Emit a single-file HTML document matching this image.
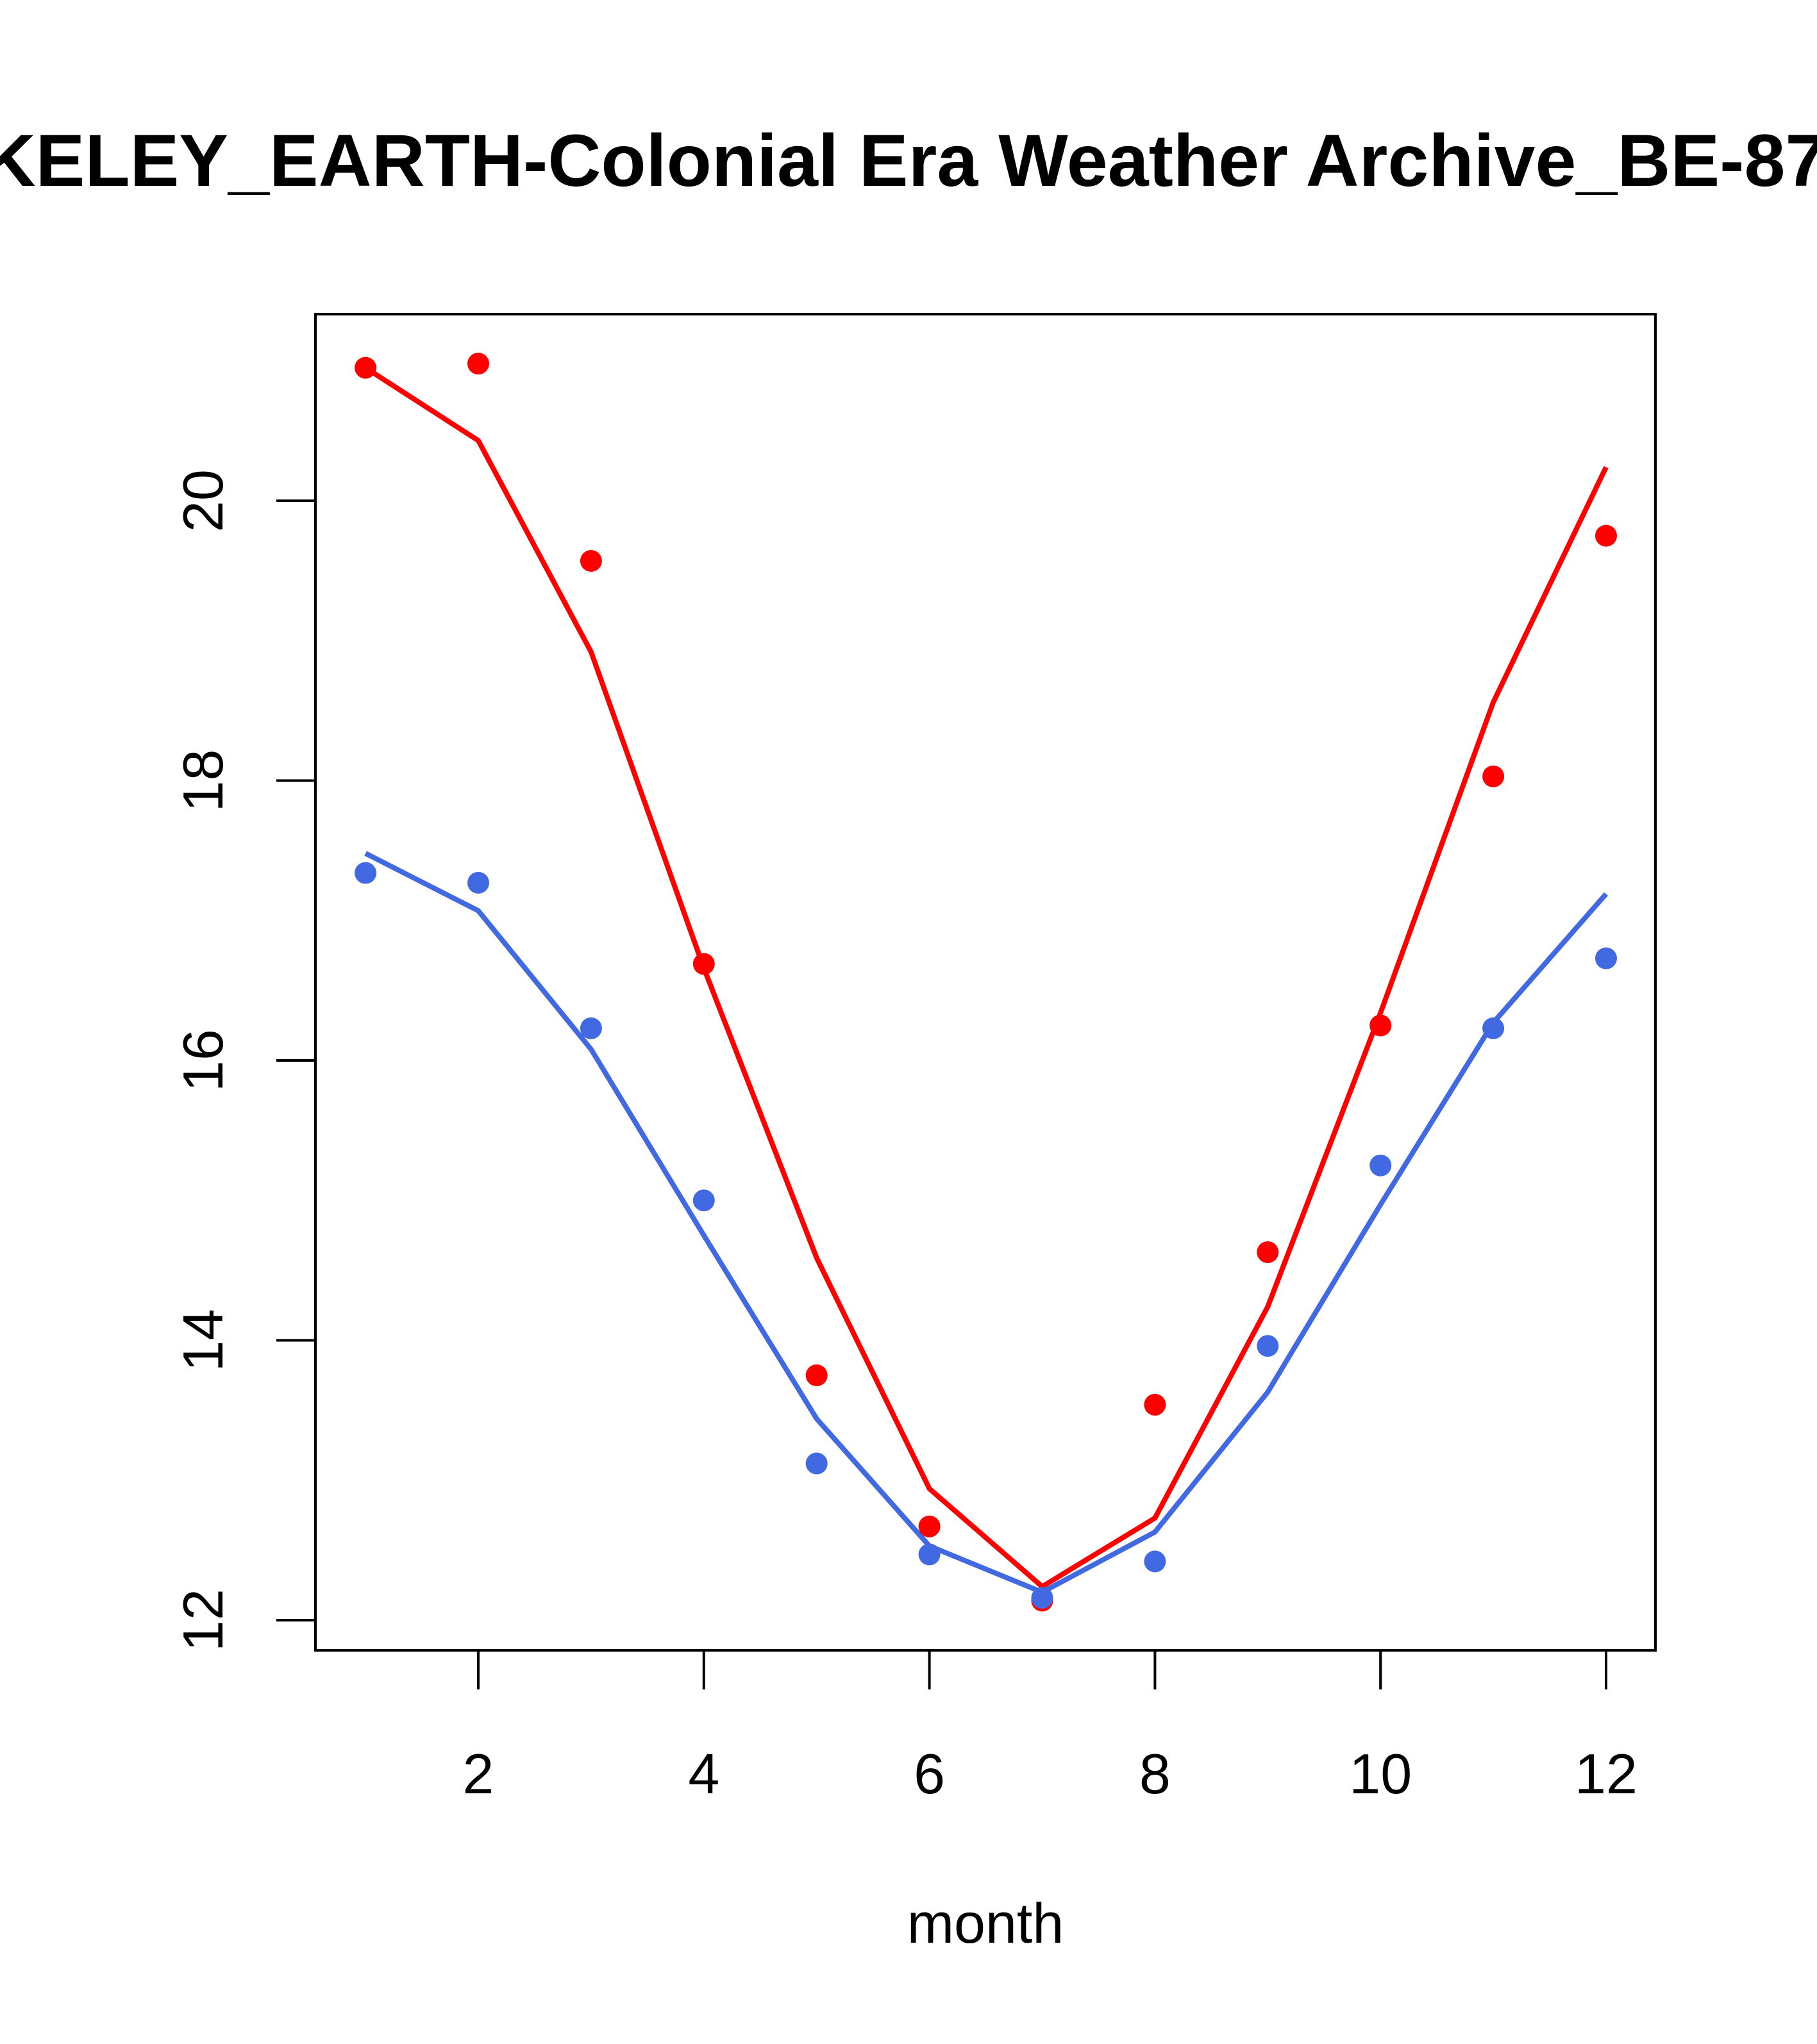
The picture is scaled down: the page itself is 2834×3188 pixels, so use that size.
<!DOCTYPE html>
<html><head><meta charset="utf-8"><style>
html,body{margin:0;padding:0;background:#fff;}
svg{display:block;font-family:"Liberation Sans",Arial,sans-serif;}
</style></head><body>
<svg id="chart" width="2834" height="3188" viewBox="0 0 2834 3188" xmlns="http://www.w3.org/2000/svg">
<rect width="2834" height="3188" fill="#fff"/>
<text x="1385" y="290" text-anchor="middle" font-size="115" font-weight="bold">BERKELEY_EARTH-Colonial Era Weather Archive_BE-87654</text>
<rect x="492" y="490" width="2090" height="2084" fill="none" stroke="#000" stroke-width="4"/>
<g id="xaxis"></g>
<g id="yaxis"></g>
<text x="1537" y="3030" text-anchor="middle" font-size="88">month</text>
<g id="series"></g>
</svg>
<script>
const months = [1,2,3,4,5,6,7,8,9,10,11,12];
const redPoints = [20.95,20.98,19.57,16.69,13.75,12.67,12.14,13.54,14.63,16.25,18.03,19.75];
const redLine = [20.95,20.43,18.92,16.66,14.59,12.94,12.24,12.73,14.24,16.34,18.56,20.24];
const bluePoints = [17.34,17.27,16.23,15.0,13.12,12.47,12.16,12.42,13.96,15.25,16.23,16.73];
const blueLine = [17.48,17.07,16.08,14.75,13.44,12.53,12.2,12.63,13.63,14.97,16.27,17.19];
const xTicks = [2,4,6,8,10,12];
const yTicks = [12,14,16,18,20];

const NS = "http://www.w3.org/2000/svg";
function xs(m){ return 746 + (m-2)*(2505-746)/10; }
function ys(v){ return 2527 - (v-12)*(2527-781)/8; }
function mk(tag, attrs, parent){
  const e = document.createElementNS(NS, tag);
  for (const k in attrs) e.setAttribute(k, attrs[k]);
  parent.appendChild(e); return e;
}
const xa = document.getElementById('xaxis');
const ya = document.getElementById('yaxis');
const sg = document.getElementById('series');
mk('line',{x1:xs(2),x2:xs(12),y1:2574,y2:2574,stroke:'#000','stroke-width':4},xa);
xTicks.forEach(t=>{
  const l = mk('line',{x1:xs(t),x2:xs(t),y1:2574,y2:2635,stroke:'#000','stroke-width':4},xa);
  
  
  const tx = mk('text',{x:xs(t),y:2797,'text-anchor':'middle','font-size':88},xa);
  tx.textContent = t;
  
  
});
mk('line',{x1:492,x2:492,y1:ys(12),y2:ys(20),stroke:'#000','stroke-width':4},ya);
yTicks.forEach(t=>{
  const l = mk('line',{x1:431,x2:492,y1:ys(t),y2:ys(t),stroke:'#000','stroke-width':4},ya);
  
  
  const tx = mk('text',{x:0,y:0,'text-anchor':'middle','font-size':88,transform:`translate(347,${ys(t)}) rotate(-90)`},ya);
  tx.textContent = t;
  
  
});
function drawLine(vals, color, name){
  const p = mk('polyline',{points:months.map((m,i)=>xs(m)+','+ys(vals[i])).join(' '),fill:'none',stroke:color,'stroke-width':8},sg);
  
  
}
function drawPts(vals, color, name){
  months.forEach((m,i)=>{
    const c = mk('circle',{cx:xs(m),cy:ys(vals[i]),r:17,fill:color},sg);
    
    
  });
}
drawLine(redLine,'#ff0000','red-fit-line');
drawLine(blueLine,'#4169e1','blue-fit-line');
drawPts(redPoints,'#ff0000','red-point');
drawPts(bluePoints,'#4169e1','blue-point');
</script>
</body></html>
